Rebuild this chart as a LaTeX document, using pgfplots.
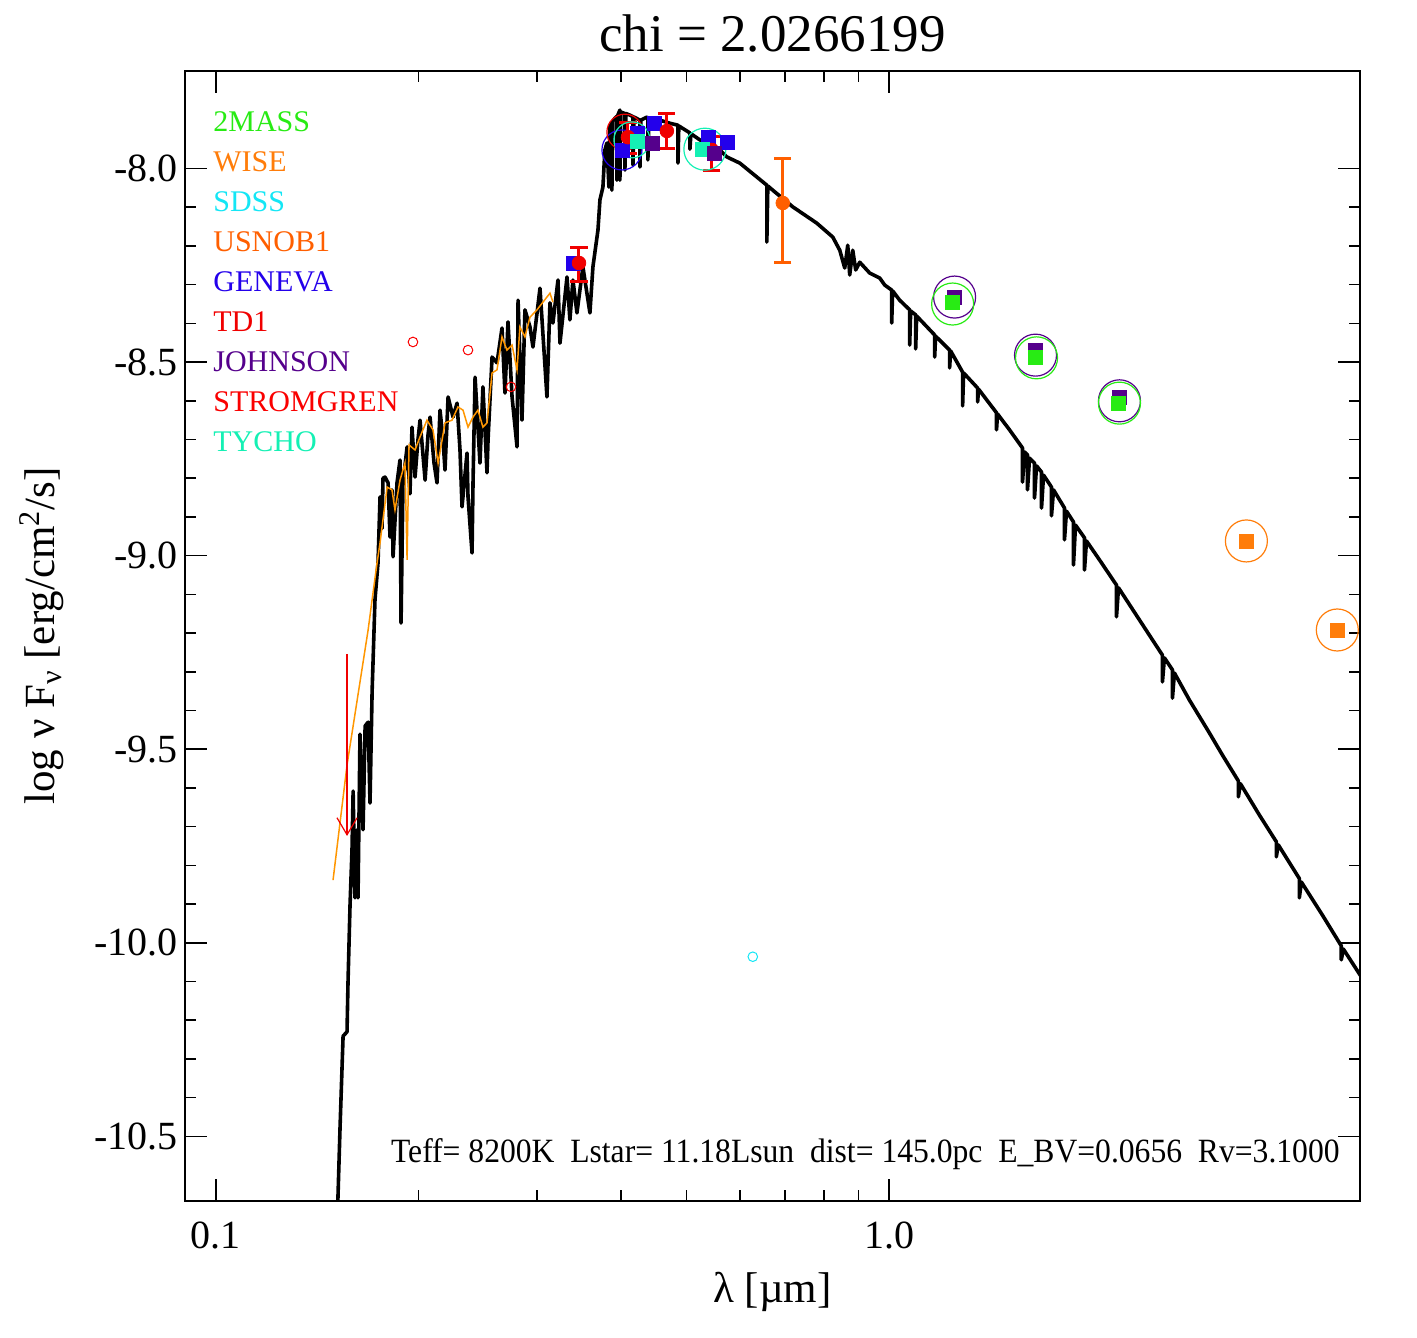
\documentclass[border=0pt]{standalone}
\usepackage{fontspec}
\setmainfont{Liberation Serif}
\usepackage{pgfplots}
\pgfplotsset{compat=1.18}
\definecolor{c2mass}{RGB}{40,235,20}
\definecolor{cwise}{RGB}{255,125,10}
\definecolor{csdss}{RGB}{20,230,245}
\definecolor{cusno}{RGB}{255,95,0}
\definecolor{cgen}{RGB}{35,0,235}
\definecolor{ctd}{RGB}{240,0,0}
\definecolor{cjoh}{RGB}{85,0,140}
\definecolor{cstr}{RGB}{250,0,0}
\definecolor{ctyc}{RGB}{20,240,180}
\definecolor{cor}{RGB}{255,150,0}
\begin{document}
\begin{tikzpicture}
\begin{axis}[name=ax,
  scale only axis, width=587.5pt, height=565pt,
  xmode=log, xmin=0.09, xmax=5.0, ymin=-10.667, ymax=-7.748,
  xtick={0.1,1}, xticklabels={0.1,1.0},
  ytick={-10.5,-10,-9.5,-9,-8.5,-8}, yticklabels={-10.5,-10.0,-9.5,-9.0,-8.5,-8.0},
  minor y tick num=4,
  tick align=inside, major tick length=11pt, minor tick length=5.5pt,
  axis line style={line width=1pt}, every tick/.style={line width=0.8pt, black},
  xticklabel style={font=\fontsize{20}{24}\selectfont, yshift=-7pt},
  yticklabel style={font=\fontsize{20}{24}\selectfont},
  clip=true]
% model spectrum
\addplot[black, line width=1.8pt, line join=round] table[x expr={10^(\thisrow{L})}, y=F] {
L F
-0.8199 -10.742
-0.8154 -10.478
-0.8110 -10.241
-0.8050 -10.230
-0.8036 -10.104
-0.8006 -9.905
-0.7976 -9.758
-0.7961 -9.608
-0.7932 -9.884
-0.7902 -9.708
-0.7887 -9.884
-0.7858 -9.461
-0.7828 -9.628
-0.7813 -9.708
-0.7783 -9.440
-0.7739 -9.430
-0.7709 -9.639
-0.7680 -9.352
-0.7635 -9.114
-0.7590 -9.019
-0.7561 -8.848
-0.7531 -8.930
-0.7516 -8.800
-0.7487 -8.797
-0.7442 -8.812
-0.7412 -8.952
-0.7383 -8.830
-0.7368 -9.003
-0.7309 -8.812
-0.7264 -8.753
-0.7249 -9.174
-0.7220 -8.812
-0.7160 -8.719
-0.7116 -8.840
-0.7086 -8.668
-0.7042 -8.797
-0.6997 -8.700
-0.6967 -8.650
-0.6893 -8.805
-0.6849 -8.690
-0.6819 -8.642
-0.6760 -8.760
-0.6715 -8.812
-0.6671 -8.624
-0.6626 -8.700
-0.6596 -8.779
-0.6552 -8.590
-0.6478 -8.642
-0.6418 -8.606
-0.6374 -8.727
-0.6344 -8.874
-0.6270 -8.735
-0.6255 -8.848
-0.6196 -8.993
-0.6181 -8.812
-0.6151 -8.539
-0.6077 -8.761
-0.6033 -8.564
-0.5973 -8.786
-0.5958 -8.701
-0.5899 -8.487
-0.5825 -8.502
-0.5751 -8.412
-0.5706 -8.580
-0.5662 -8.396
-0.5602 -8.590
-0.5528 -8.719
-0.5513 -8.340
-0.5454 -8.650
-0.5410 -8.365
-0.5335 -8.409
-0.5291 -8.461
-0.5187 -8.309
-0.5083 -8.590
-0.5039 -8.347
-0.4994 -8.399
-0.4920 -8.288
-0.4890 -8.451
-0.4786 -8.280
-0.4742 -8.391
-0.4697 -8.288
-0.4638 -8.373
-0.4549 -8.254
-0.4445 -8.373
-0.4401 -8.254
-0.4326 -8.159
-0.4297 -8.081
-0.4252 -8.048
-0.4223 -7.952
-0.4193 -7.934
-0.4163 -8.048
-0.4148 -7.888
-0.4119 -7.880
-0.4119 -8.056
-0.4104 -7.878
-0.4074 -7.870
-0.4045 -7.865
-0.4045 -8.030
-0.4030 -7.862
-0.4000 -7.849
-0.4000 -8.030
-0.3985 -7.854
-0.3926 -7.858
-0.3926 -8.004
-0.3911 -7.858
-0.3852 -7.862
-0.3807 -7.866
-0.3807 -7.991
-0.3792 -7.867
-0.3703 -7.875
-0.3703 -7.996
-0.3688 -7.875
-0.3599 -7.867
-0.3585 -7.870
-0.3585 -7.978
-0.3570 -7.870
-0.3407 -7.875
-0.3258 -7.883
-0.3139 -7.888
-0.3139 -7.986
-0.3125 -7.890
-0.2961 -7.908
-0.2961 -7.950
-0.2946 -7.910
-0.2813 -7.926
-0.2709 -7.934
-0.2516 -7.952
-0.2412 -7.970
-0.2220 -7.986
-0.1967 -8.022
-0.1819 -8.043
-0.1819 -8.190
-0.1804 -8.045
-0.1730 -8.056
-0.1433 -8.099
-0.1077 -8.141
-0.0840 -8.177
-0.0736 -8.211
-0.0662 -8.257
-0.0617 -8.198
-0.0588 -8.275
-0.0543 -8.211
-0.0499 -8.262
-0.0439 -8.242
-0.0291 -8.270
-0.0142 -8.283
-0.0068 -8.301
0.0036 -8.314
0.0036 -8.399
0.0050 -8.316
0.0154 -8.340
0.0303 -8.365
0.0303 -8.456
0.0318 -8.368
0.0392 -8.378
0.0392 -8.466
0.0407 -8.381
0.0674 -8.430
0.0674 -8.487
0.0688 -8.433
0.0896 -8.469
0.0896 -8.515
0.0911 -8.471
0.1089 -8.526
0.1089 -8.613
0.1104 -8.528
0.1312 -8.567
0.1312 -8.603
0.1326 -8.570
0.1593 -8.631
0.1593 -8.675
0.1608 -8.634
0.1786 -8.675
0.1979 -8.722
0.1979 -8.810
0.2009 -8.732
0.2053 -8.740
0.2053 -8.830
0.2083 -8.748
0.2157 -8.761
0.2157 -8.851
0.2187 -8.768
0.2261 -8.784
0.2261 -8.877
0.2291 -8.792
0.2409 -8.823
0.2409 -8.897
0.2439 -8.830
0.2602 -8.877
0.2602 -8.959
0.2632 -8.885
0.2736 -8.913
0.2736 -9.024
0.2766 -8.921
0.2899 -8.954
0.2899 -9.037
0.2929 -8.962
0.3122 -9.011
0.3374 -9.076
0.3374 -9.158
0.3404 -9.083
0.3715 -9.166
0.4056 -9.257
0.4056 -9.326
0.4086 -9.264
0.4205 -9.295
0.4205 -9.368
0.4234 -9.303
0.4457 -9.373
0.4754 -9.458
0.4947 -9.515
0.5184 -9.582
0.5184 -9.623
0.5214 -9.589
0.5496 -9.670
0.5748 -9.739
0.5748 -9.778
0.5777 -9.747
0.6089 -9.834
0.6089 -9.884
0.6119 -9.843
0.6430 -9.928
0.6712 -10.008
0.6712 -10.044
0.6742 -10.016
0.7009 -10.088
};
% low-resolution spectrum (orange)
\addplot[cor, line width=0.75pt] table[x expr={10^(\thisrow{L})}, y=F] {
L F
-0.8258 -9.838
-0.8050 -9.541
-0.7739 -9.192
-0.7680 -9.114
-0.7605 -9.019
-0.7561 -8.967
-0.7457 -8.823
-0.7383 -8.830
-0.7338 -8.882
-0.7264 -8.805
-0.7190 -8.761
-0.7160 -9.011
-0.7131 -8.714
-0.7042 -8.727
-0.6967 -8.693
-0.6864 -8.650
-0.6774 -8.675
-0.6700 -8.761
-0.6596 -8.657
-0.6493 -8.650
-0.6404 -8.616
-0.6329 -8.624
-0.6255 -8.668
-0.6181 -8.642
-0.6107 -8.624
-0.6033 -8.668
-0.5973 -8.657
-0.5899 -8.528
-0.5825 -8.520
-0.5751 -8.435
-0.5677 -8.469
-0.5602 -8.456
-0.5528 -8.520
-0.5484 -8.409
-0.5410 -8.435
-0.5335 -8.384
-0.5231 -8.365
-0.5142 -8.345
-0.5039 -8.322
-0.4994 -8.345
};
% upper limit arrow (red)
\addplot[ctd, line width=0.6pt] table[x expr={10^(\thisrow{L})}, y=F] {
L F
-0.8050 -9.254
-0.8050 -9.721
};
\addplot[ctd, line width=0.6pt] table[x expr={10^(\thisrow{L})}, y=F] {
L F
-0.8199 -9.677
-0.8050 -9.721
-0.7902 -9.677
};
% small hollow circles
\addplot[only marks, mark=o, mark size=2.4pt, cstr, mark options={line width=0.5pt}] table[x expr={10^(\thisrow{L})}, y=F] {
L F
-0.7071 -8.448
-0.6255 -8.469
-0.5617 -8.564
};
\addplot[only marks, mark=o, mark size=2.4pt, csdss, mark options={line width=0.5pt}] table[x expr={10^(\thisrow{L})}, y=F] {
L F
-0.2027 -10.036
};
% big hollow circles
\addplot[only marks, mark=o, mark size=10pt, cgen, mark options={line width=0.6pt}] table[x expr={10^(\thisrow{L})}, y=F] {
L F
-0.3970 -7.952
};
\addplot[only marks, mark=o, mark size=9pt, ctd, mark options={line width=0.6pt}] table[x expr={10^(\thisrow{L})}, y=F] {
L F
-0.3926 -7.906
};
\addplot[only marks, mark=o, mark size=9pt, ctyc, mark options={line width=0.6pt}] table[x expr={10^(\thisrow{L})}, y=F] {
L F
-0.3822 -7.926
};
\addplot[only marks, mark=o, mark size=10.5pt, ctyc, mark options={line width=0.6pt}] table[x expr={10^(\thisrow{L})}, y=F] {
L F
-0.2739 -7.950
};
\addplot[only marks, mark=o, mark size=10.5pt, cjoh, mark options={line width=0.6pt}] table[x expr={10^(\thisrow{L})}, y=F] {
L F
0.0970 -8.332
0.2172 -8.482
0.3418 -8.600
};
\addplot[only marks, mark=o, mark size=10.5pt, c2mass, mark options={line width=0.6pt}] table[x expr={10^(\thisrow{L})}, y=F] {
L F
0.0941 -8.350
0.2187 -8.489
0.3418 -8.606
};
\addplot[only marks, mark=o, mark size=10.5pt, cwise, mark options={line width=0.6pt}] table[x expr={10^(\thisrow{L})}, y=F] {
L F
0.5303 -8.962
0.6653 -9.192
};
% GENEVA
\addplot[only marks, mark=square*, mark size=3.5pt, cgen] table[x expr={10^(\thisrow{L})}, y=F] {
L F
-0.4697 -8.244
-0.3970 -7.952
-0.3748 -7.908
-0.3481 -7.883
-0.2694 -7.919
-0.2398 -7.932
};
% red points with error bars
\addplot[only marks, mark=*, mark size=3.4pt, ctd,
  error bars/.cd, y dir=both, y explicit,
  error bar style={line width=1.5pt, ctd},
  error mark options={rotate=90, mark size=4.3pt, line width=1.5pt, ctd}]
  table[x expr={10^(\thisrow{L})}, y=F, y error plus=ep, y error minus=em] {
L F ep em
-0.4608 -8.244 0.041 0.049
-0.3881 -7.919 0.039 0.041
-0.3303 -7.903 0.044 0.044
-0.2635 -7.952 0.036 0.052
};
% TYCHO
\addplot[only marks, mark=square*, mark size=3.5pt, ctyc] table[x expr={10^(\thisrow{L})}, y=F] {
L F
-0.3748 -7.929
-0.2769 -7.950
};
% JOHNSON
\addplot[only marks, mark=square*, mark size=3.5pt, cjoh] table[x expr={10^(\thisrow{L})}, y=F] {
L F
-0.3525 -7.934
-0.2591 -7.960
0.0970 -8.332
0.2172 -8.469
0.3418 -8.590
};
% 2MASS
\addplot[only marks, mark=square*, mark size=3.5pt, c2mass] table[x expr={10^(\thisrow{L})}, y=F] {
L F
0.0941 -8.347
0.2172 -8.489
0.3404 -8.606
};
% WISE
\addplot[only marks, mark=square*, mark size=3.5pt, cwise] table[x expr={10^(\thisrow{L})}, y=F] {
L F
0.5303 -8.962
0.6653 -9.192
};
% USNOB1
\addplot[only marks, mark=*, mark size=3.4pt, cusno,
  error bars/.cd, y dir=both, y explicit,
  error bar style={line width=1.5pt, cusno},
  error mark options={rotate=90, mark size=4.3pt, line width=1.5pt, cusno}]
  table[x expr={10^(\thisrow{L})}, y=F, y error plus=ep, y error minus=em] {
L F ep em
-0.1582 -8.089 0.116 0.1525
};
\end{axis}
% title and labels
\node[anchor=base, font=\fontsize{26.5}{30}\selectfont] at ([yshift=9.5pt]ax.north) {chi = 2.0266199};
\node[anchor=base, font=\fontsize{21.5}{26}\selectfont] at ([yshift=-50.5pt]ax.south) {λ [µm]};
\node[anchor=base, rotate=90, font=\fontsize{21.5}{26}\selectfont] at ([xshift=-65pt]ax.west) {log ν F\textsubscript{ν} [erg/cm\textsuperscript{2}/s]};
% legend
\begin{scope}[every node/.style={anchor=base west, font=\fontsize{15}{18}\selectfont, inner sep=0pt}]
\node[text=c2mass] at ([shift={(14pt,-30.5pt)}]ax.north west) {2MASS};
\node[text=cwise] at ([shift={(14pt,-50.5pt)}]ax.north west) {WISE};
\node[text=csdss] at ([shift={(14pt,-70.5pt)}]ax.north west) {SDSS};
\node[text=cusno] at ([shift={(14pt,-90.5pt)}]ax.north west) {USNOB1};
\node[text=cgen] at ([shift={(14pt,-110.5pt)}]ax.north west) {GENEVA};
\node[text=ctd] at ([shift={(14pt,-130.5pt)}]ax.north west) {TD1};
\node[text=cjoh] at ([shift={(14pt,-150.5pt)}]ax.north west) {JOHNSON};
\node[text=cstr] at ([shift={(14pt,-170.5pt)}]ax.north west) {STROMGREN};
\node[text=ctyc] at ([shift={(14pt,-190.5pt)}]ax.north west) {TYCHO};
\end{scope}
\node[anchor=base east, inner sep=0pt, font=\fontsize{17}{20}\selectfont] at ([shift={(-10pt,19pt)}]ax.south east) {\scalebox{0.93}[1]{Teff= 8200K\ \ Lstar= 11.18Lsun\ \ dist= 145.0pc\ \ E\_BV=0.0656\ \ Rv=3.1000}};
\pgfresetboundingbox
\path ([shift={(-92.5pt,-68pt)}]ax.south west) rectangle ([shift={(28.5pt,35.5pt)}]ax.north east);
\end{tikzpicture}
\end{document}
